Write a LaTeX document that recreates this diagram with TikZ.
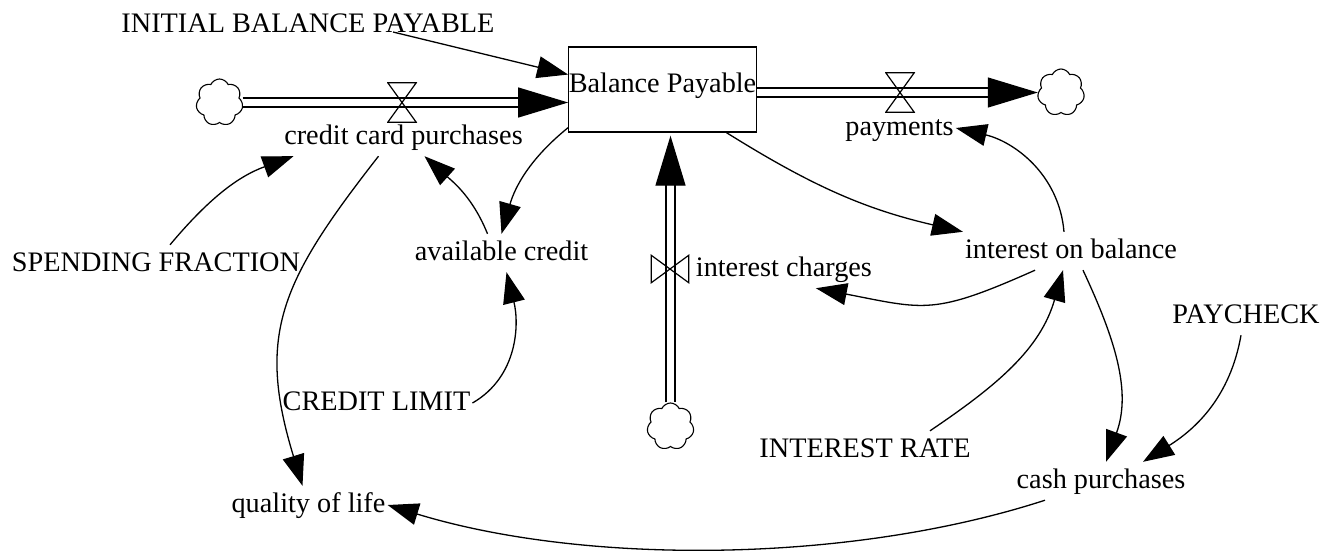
\documentclass[tikz,border=0pt]{standalone}
\usepackage{fontspec}
\setmainfont{Liberation Serif}
\usetikzlibrary{arrows.meta,positioning,shapes.symbols}

\begin{document}
\begin{tikzpicture}[x=1pt,y=-1pt,font=\fontsize{28.25pt}{34pt}\selectfont,
                var/.style={inner xsep=2pt,inner ysep=6pt,text height=20pt,text depth=6pt,anchor=base},
                stock/.style={draw,line width=1.3pt,inner sep=0pt,minimum width=187pt,
                        text height=45pt,text depth=40pt,anchor=base},
                cloudy/.style={cloud,cloud puffs=7,cloud puff arc=130,aspect=1,draw,line width=1.1pt,
                        minimum width=47pt,minimum height=47pt,inner sep=0pt},
                hvalve/.style={inner sep=0pt,minimum width=30pt,minimum height=41pt,path picture={
                                \draw[line width=1.2pt] ([shift={(.8pt,-.8pt)}]path picture bounding box.north west)
                                -- ([shift={(-.8pt,-.8pt)}]path picture bounding box.north east)
                                -- ([shift={(.8pt,.8pt)}]path picture bounding box.south west)
                                -- ([shift={(-.8pt,.8pt)}]path picture bounding box.south east) -- cycle;
                            }},
                vvalve/.style={inner sep=0pt,minimum width=39pt,minimum height=29pt,path picture={
                                \draw[line width=1.2pt] ([shift={(.8pt,-.8pt)}]path picture bounding box.north west)
                                -- ([shift={(.8pt,.8pt)}]path picture bounding box.south west)
                                -- ([shift={(-.8pt,-.8pt)}]path picture bounding box.north east)
                                -- ([shift={(-.8pt,.8pt)}]path picture bounding box.south east) -- cycle;
                            }},
                link/.style={line width=1.3pt,-{Triangle[length=31pt,width=22pt]}},
                pipe/.style={line width=1.3pt,double distance=7.5pt,-{Triangle[length=50pt,width=30pt]}}]
            \useasboundingbox (0,0) rectangle (1340,550);
            % stock, clouds and valves
            \node[stock] (bp) at (662.5,92) {Balance Payable};
            \node[cloudy] (cloudL) at (219.5,102.5) {};
            \node[cloudy] (cloudR) at (1061,92.5) {};
            \node[cloudy] (cloudB) at (670.5,426.5) {};
            \draw[pipe] (cloudL.east) -- (cloudL.east -| bp.west);
            \draw[pipe] (cloudR.west -| bp.east) -- (cloudR.west);
            \draw[pipe,shorten >=3pt] (cloudB.north) -- (cloudB.north |- bp.south);
            \node[hvalve] (vccp) at (402,102.5) {};
            \node[hvalve] (vpay) at (900,92.5) {};
            \node[vvalve] (vint) at (670,269) {};
            % variables
            \node[var] (init) at (308,32) {INITIAL BALANCE PAYABLE};
            \node[var] (ccp) at (403.5,144) {credit card purchases};
            \node[var] (pay) at (899.5,135) {payments};
            \node[var,right=4pt of vint] (chg) {interest charges};
            \node[var] (spend) at (156,271) {SPENDING FRACTION};
            \node[var] (avail) at (501.5,260) {available credit};
            \node[var] (limit) at (376.5,410) {CREDIT LIMIT};
            \node[var] (qol) at (308.5,512) {quality of life};
            \node[var] (iob) at (1071,258) {interest on balance};
            \node[var] (paycheck) at (1246,323) {PAYCHECK};
            \node[var] (rate) at (865,457) {INTEREST RATE};
            \node[var] (cash) at (1101,488) {cash purchases};
            %
            \draw[link] ([xshift=85pt]init.base) -- (bp.171);
            \draw[link] ([xshift=14pt]spend.north) to[out=50,in=200] ([xshift=-110pt]ccp.south);
            \draw[link] ([xshift=-25pt]ccp.south) to[out=232,in=107,looseness=1.2] ([xshift=-6pt]qol.north);
            \draw[link] ([xshift=-14pt]avail.north) to[out=112,in=-42] ([xshift=21pt]ccp.south);
            \draw[link] (bp.202) to[out=219,in=74] (avail.north);
            \draw[link] (limit.east) to[out=30,in=-76] ([xshift=5pt]avail.south);
            \draw[link] ([xshift=64pt]bp.south) to[out=-32,in=167] (iob.north west);
            \draw[link] ([xshift=-36pt]iob.south) to[out=204,in=-11,looseness=1.3] ([xshift=32pt]chg.south);
            \draw[link] ([xshift=-7pt]iob.north) to[out=95,in=-13] (pay.east);
            \draw[link] ([xshift=65pt]rate.north) to[out=34,in=-106] ([xshift=-8pt]iob.south);
            \draw[link] ([xshift=12pt]iob.south) to[out=-65,in=70] ([xshift=5pt]cash.north);
            \draw[link] ([xshift=-5pt]paycheck.south) to[out=-100,in=32] ([xshift=42pt]cash.north);
            \draw[link] ([xshift=-56pt]cash.south) to[out=198,in=-17,looseness=.8] (qol.east);
        \end{tikzpicture}
\end{document}
